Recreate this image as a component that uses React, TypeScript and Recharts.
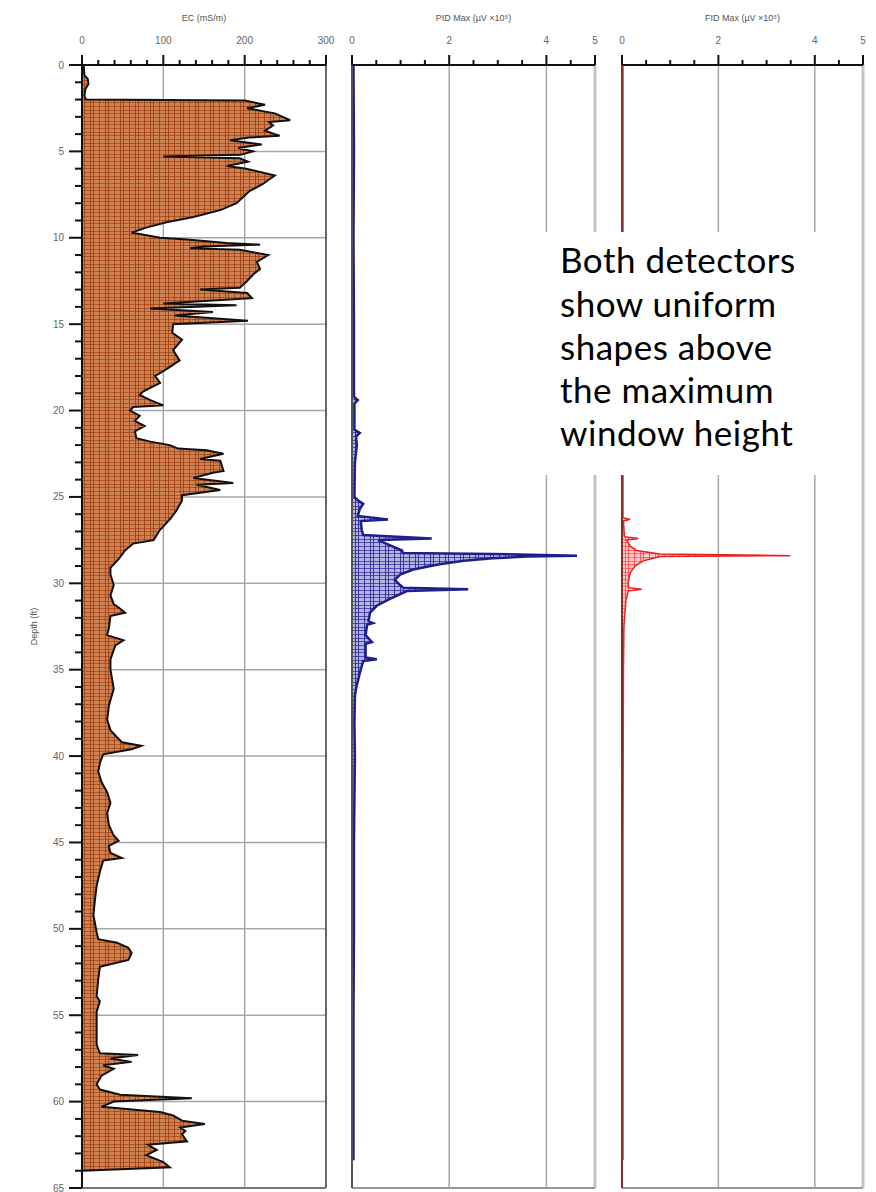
import React from "react";
import {
  Area,
  AreaChart,
  CartesianGrid,
  ReferenceLine,
  XAxis,
  YAxis,
} from "recharts";

// depth axis (ft)
const DEPTH_MAJOR = [0, 5, 10, 15, 20, 25, 30, 35, 40, 45, 50, 55, 60, 65];
const DEPTH_TICKS = Array.from({ length: 66 }, (_, i) => i); // 1 ft minor ticks

// top axes
const EC_MAJOR = [0, 100, 200, 300];
const EC_MINOR = [20, 40, 60, 80, 120, 140, 160, 180, 220, 240, 260, 280];
const GAS_MAJOR = [0, 2, 4, 5];
const GAS_MINOR = [0.5, 1, 1.5, 2.5, 3, 3.5, 4.5];

// EC (mS/m) vs depth (ft)
const EC_DEPTH = [
  0, 0.6, 0.8, 1.1, 1.4, 1.8, 2.0, 2.05, 2.3, 2.5, 2.8, 3.2, 3.3, 3.5, 3.8, 4.1,
  4.2, 4.35, 4.6, 4.8, 5.0, 5.2, 5.3, 5.4, 5.6, 5.85, 6.0, 6.4, 6.9, 7.3, 8.0,
  8.4, 8.8, 9.1, 9.4, 9.7, 10.0, 10.1, 10.3, 10.4, 10.5, 10.6, 10.7, 11.0, 11.4,
  11.8, 12.1, 12.5, 12.9, 13.0, 13.2, 13.5, 13.8, 13.9, 14.1, 14.3, 14.5, 14.8,
  15.0, 15.5, 15.9, 16.5, 17.1, 17.6, 18.0, 18.4, 18.9, 19.1, 19.4, 19.7, 19.8,
  20.0, 20.3, 20.6, 20.9, 21.2, 21.6, 21.8, 22.0, 22.2, 22.3, 22.5, 22.8, 22.9,
  23.5, 23.6, 23.9, 24.2, 24.3, 24.6, 24.9, 25.2, 25.8, 26.3, 26.9, 27.5, 27.7,
  28.1, 28.6, 29.1, 29.5, 30.1, 30.7, 31.2, 31.4, 31.7, 31.9, 32.6, 33.0, 33.3,
  33.6, 34.4, 35.0, 36.1, 37.1, 37.9, 38.5, 38.9, 39.2, 39.4, 39.6, 39.9, 40.4,
  40.9, 41.5, 42.1, 42.7, 43.3, 44.0, 44.6, 44.9, 45.2, 45.6, 45.9, 46.05, 46.7,
  47.5, 48.3, 49.2, 50.2, 50.6, 50.8, 51.1, 51.4, 51.8, 52.2, 52.9, 53.9, 54.2,
  54.8, 55.8, 56.7, 57.2, 57.3, 57.5, 57.7, 57.9, 58.1, 58.5, 59.0, 59.3, 59.6,
  59.8, 60.0, 60.3, 60.6, 60.8, 61.1, 61.3, 61.5, 61.7, 61.9, 62.3, 62.5, 62.8,
  63.1, 63.5, 63.8, 63.9, 64.0,
];
const EC_VALUE = [
  2, 3, 7, 8, 4, 3, 5, 200, 225, 203, 237, 256, 230, 235, 225, 243,
  205, 182, 221, 192, 210, 195, 100, 194, 204, 178, 202, 237, 222, 206, 190,
  170, 137, 104, 80, 61, 96, 129, 178, 219, 150, 133, 194, 229, 215,
  219, 211, 203, 194, 145, 203, 209, 100, 190, 84, 161, 114, 204,
  112, 111, 123, 112, 120, 104, 90, 96, 75, 71, 84, 100, 63,
  59, 71, 65, 77, 65, 67, 84, 108, 118, 153, 174, 145, 170,
  174, 161, 137, 186, 141, 170, 123, 123, 116, 108, 96, 88, 63,
  53, 45, 35, 35, 39, 35, 39, 45, 53, 35, 33, 31, 51,
  41, 35, 35, 39, 33, 31, 35, 43, 49, 73, 61, 26, 22,
  20, 24, 31, 35, 31, 33, 39, 45, 33, 35, 49, 26, 22,
  18, 16, 14, 18, 20, 43, 57, 61, 57, 22, 20, 18, 22,
  18, 18, 18, 22, 69, 35, 61, 26, 39, 24, 18, 22, 47,
  135, 39, 24, 96, 112, 123, 151, 121, 127, 123, 129, 81, 92,
  79, 100, 108, 55, 1,
];

// PID Max (µV ×10^5) vs depth (ft)
const PID_DEPTH = [
  0, 5, 10, 15, 19.2, 19.4, 19.6, 21.1, 21.3, 21.5, 22, 23, 25.0, 25.2, 25.4,
  25.7, 26.1, 26.3, 26.4, 26.9, 27.2, 27.4, 27.5, 27.85, 28.1, 28.25, 28.3, 28.4,
  28.45, 28.55, 28.7, 28.9, 29.2, 29.5, 29.8, 30.1, 30.25, 30.35, 30.45, 30.9,
  31.3, 31.7, 32.2, 32.3, 32.4, 33.0, 33.4, 33.5, 34.3, 34.4, 34.5, 35.2, 36.0,
  36.5, 38, 40, 45, 50, 55, 60, 63.4,
];
const PID_VALUE = [
  0.03, 0.04, 0.03, 0.04, 0.04, 0.12, 0.05, 0.05, 0.16, 0.08, 0.1, 0.06, 0.05,
  0.12, 0.23, 0.16, 0.12, 0.74, 0.18, 0.2, 0.23, 1.64, 0.54, 0.82, 1.03, 1.05,
  2.9, 4.63, 3.6, 2.9, 2.3, 1.8, 1.26, 0.99, 0.88, 0.99, 1.05, 2.39, 1.13, 0.78,
  0.51, 0.37, 0.34, 0.43, 0.31, 0.28, 0.41, 0.28, 0.28, 0.51, 0.23, 0.16, 0.09,
  0.06, 0.05, 0.06, 0.04, 0.04, 0.03, 0.03, 0.03,
];

// FID Max (µV ×10^5) vs depth (ft)
const FID_DEPTH = [
  0, 10, 20, 26.2, 26.3, 26.4, 27.3, 27.4, 27.5, 27.85, 28.1, 28.3, 28.4, 28.45,
  28.55, 28.7, 29.0, 29.4, 29.9, 30.25, 30.35, 30.45, 31.0, 32.5, 35, 45, 63.4,
];
const FID_VALUE = [
  0.02, 0.02, 0.02, 0.02, 0.17, 0.03, 0.05, 0.34, 0.1, 0.17, 0.3, 0.79, 3.49,
  0.8, 0.65, 0.44, 0.27, 0.17, 0.13, 0.13, 0.41, 0.13, 0.08, 0.04, 0.03, 0.02,
  0.02,
];

const NOTE_LINES = [
  "Both detectors",
  "show uniform",
  "shapes above",
  "the maximum",
  "window height",
];

const FONT = "'Liberation Sans', Arial, sans-serif";
const H = 1192;

const ecData = EC_DEPTH.map((d, i) => ({ depth: d, v: EC_VALUE[i] }));
const pidData = PID_DEPTH.map((d, i) => ({ depth: d, v: PID_VALUE[i] }));
const fidData = FID_DEPTH.map((d, i) => ({ depth: d, v: FID_VALUE[i] }));

function TopTick(props: any) {
  const { x, y, payload, majors } = props;
  const major = majors.includes(payload.value);
  return (
    <g>
      <line x1={x} x2={x} y1={y} y2={y - (major ? 10 : 5)} stroke="#111" strokeWidth={2} />
      {major && (
        <text x={x} y={y - 21} textAnchor="middle" fontSize={10} fill="#666" fontFamily={FONT}>
          {payload.value}
        </text>
      )}
    </g>
  );
}

function DepthTick(props: any) {
  const { x, y, payload } = props;
  const major = DEPTH_MAJOR.includes(payload.value);
  return (
    <g>
      <line x1={x - (major ? 13 : 7)} x2={x} y1={y} y2={y} stroke="#111" strokeWidth={2} />
      {major && (
        <text x={x - 18} y={y} dy="0.35em" textAnchor="end" fontSize={10} fill="#666" fontFamily={FONT}>
          {payload.value}
        </text>
      )}
    </g>
  );
}

function AxisTitle(props: any) {
  const { viewBox, text } = props;
  if (!viewBox) return null;
  return (
    <text x={viewBox.x + viewBox.width / 2} y={viewBox.y + 21} textAnchor="middle" fontSize={9} fill="#555" fontFamily={FONT}>
      {text}
    </text>
  );
}

function DepthTitle(props: any) {
  const { viewBox } = props;
  if (!viewBox) return null;
  const cx = viewBox.x + 34;
  const cy = viewBox.y + viewBox.height / 2;
  return (
    <text x={cx} y={cy} transform={`rotate(-90 ${cx} ${cy})`} textAnchor="middle" dy="0.35em" fontSize={9} fill="#555" fontFamily={FONT}>
      Depth (ft)
    </text>
  );
}

// plaid-like hatch used by the log fills
function Hatch({ id, base, line }: { id: string; base: string; line: string }) {
  return (
    <pattern id={id} width={15} height={11} patternUnits="userSpaceOnUse">
      <rect width={15} height={11} fill={base} />
      <path d="M0.5 0V11M3.5 0V11M9.5 0V11" stroke={line} strokeWidth={1} strokeOpacity={0.85} />
      <path d="M0 0.5H15M0 3.5H15M0 7.5H15" stroke={line} strokeWidth={1} strokeOpacity={0.7} />
    </pattern>
  );
}

export default function App() {
  const gasTicks = [...GAS_MAJOR, ...GAS_MINOR].sort((a, b) => a - b);
  const ecTicks = [...EC_MAJOR, ...EC_MINOR].sort((a, b) => a - b);

  return (
    <div style={{ position: "absolute", left: 0, top: 0, width: 876, height: H, background: "#fff" }}>
      {/* EC */}
      <div style={{ position: "absolute", left: 0, top: 0 }}>
        <AreaChart width={340} height={H} data={ecData} layout="vertical" margin={{ top: 0, right: 14, bottom: 4, left: 0 }}>
          <defs>
            <Hatch id="ecFill" base="#CF8256" line="#A0400C" />
          </defs>
          <CartesianGrid stroke="#a8a8a8" strokeWidth={1.5} horizontalValues={DEPTH_MAJOR} verticalValues={[100, 200]} />
          <XAxis
            type="number"
            orientation="top"
            domain={[0, 300]}
            ticks={ecTicks}
            interval={0}
            height={65}
            tickSize={0}
            tickMargin={0}
            tick={(p: any) => <TopTick {...p} majors={EC_MAJOR} />}
            axisLine={{ stroke: "#111", strokeWidth: 2 }}
            label={<AxisTitle text="EC (mS/m)" />}
          />
          <YAxis
            type="number"
            dataKey="depth"
            domain={[0, 65]}
            ticks={DEPTH_TICKS}
            interval={0}
            width={82}
            tickSize={0}
            tickMargin={0}
            tick={(p: any) => <DepthTick {...p} />}
            axisLine={{ stroke: "#111", strokeWidth: 2 }}
            label={<DepthTitle />}
          />
          <ReferenceLine x={300} stroke="#666" strokeWidth={2} />
          <ReferenceLine y={65} stroke="#777" strokeWidth={2} />
          <Area type="linear" dataKey="v" stroke="#111" strokeWidth={2} fill="url(#ecFill)" fillOpacity={1} isAnimationActive={false} />
        </AreaChart>
      </div>

      {/* PID */}
      <div style={{ position: "absolute", left: 340, top: 0 }}>
        <AreaChart width={270} height={H} data={pidData} layout="vertical" margin={{ top: 0, right: 15, bottom: 4, left: 0 }}>
          <defs>
            <Hatch id="pidFill" base="#B4B4E0" line="#24249A" />
          </defs>
          <CartesianGrid stroke="#a8a8a8" strokeWidth={1.5} horizontalValues={DEPTH_MAJOR} verticalValues={[2, 4]} />
          <XAxis
            type="number"
            orientation="top"
            domain={[0, 5]}
            ticks={gasTicks}
            interval={0}
            height={65}
            tickSize={0}
            tickMargin={0}
            tick={(p: any) => <TopTick {...p} majors={GAS_MAJOR} />}
            axisLine={{ stroke: "#111", strokeWidth: 2 }}
            label={<AxisTitle text="PID Max (µV ×10⁵)" />}
          />
          <YAxis type="number" dataKey="depth" domain={[0, 65]} width={12} tick={false} tickLine={false} axisLine={{ stroke: "#555", strokeWidth: 2 }} />
          <ReferenceLine x={5} stroke="#c4c4c4" strokeWidth={3} />
          <ReferenceLine y={65} stroke="#999" strokeWidth={2} />
          <Area type="linear" dataKey="v" stroke="#1E1E8C" strokeWidth={2.5} fill="url(#pidFill)" fillOpacity={1} isAnimationActive={false} />
        </AreaChart>
      </div>

      {/* FID */}
      <div style={{ position: "absolute", left: 610, top: 0 }}>
        <AreaChart width={266} height={H} data={fidData} layout="vertical" margin={{ top: 0, right: 13, bottom: 4, left: 0 }}>
          <defs>
            <Hatch id="fidFill" base="#FFC8C8" line="#FF4848" />
          </defs>
          <CartesianGrid stroke="#a8a8a8" strokeWidth={1.5} horizontalValues={DEPTH_MAJOR} verticalValues={[2, 4]} />
          <XAxis
            type="number"
            orientation="top"
            domain={[0, 5]}
            ticks={gasTicks}
            interval={0}
            height={65}
            tickSize={0}
            tickMargin={0}
            tick={(p: any) => <TopTick {...p} majors={GAS_MAJOR} />}
            axisLine={{ stroke: "#111", strokeWidth: 2 }}
            label={<AxisTitle text="FID Max (µV ×10⁵)" />}
          />
          <YAxis type="number" dataKey="depth" domain={[0, 65]} width={12} tick={false} tickLine={false} axisLine={{ stroke: "#8a2a2a", strokeWidth: 2 }} />
          <ReferenceLine x={5} stroke="#c4c4c4" strokeWidth={3} />
          <ReferenceLine y={65} stroke="#999" strokeWidth={2} />
          <Area type="linear" dataKey="v" stroke="#E82020" strokeWidth={1.5} fill="url(#fidFill)" fillOpacity={1} isAnimationActive={false} />
        </AreaChart>
      </div>

      {/* annotation box */}
      <svg width={876} height={H} style={{ position: "absolute", left: 0, top: 0, pointerEvents: "none" }}>
        <rect x={532} y={232} width={310} height={243} fill="#fff" />
        {NOTE_LINES.map((t, i) => (
          <text key={t} x={560} y={273.3 + i * 43.2} fontSize={35} letterSpacing={0.5} fill="#000" fontFamily="Lato, 'Open Sans', sans-serif">
            {t}
          </text>
        ))}
      </svg>
    </div>
  );
}
